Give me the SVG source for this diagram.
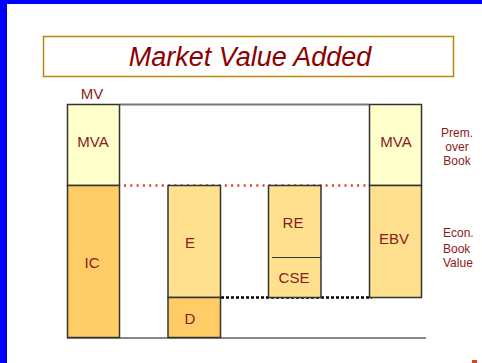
<svg xmlns="http://www.w3.org/2000/svg" width="482" height="363" viewBox="0 0 482 363">
<style>
.lbl{font-family:"Liberation Sans",Arial,sans-serif;fill:#8B1A1A;text-anchor:middle}
.big{font-size:15px}
.sm{font-size:12px}
.box{stroke:#333;stroke-width:1.5}
.light{fill:#FFFFCC}
.dark{fill:#FFCC66}
.hatch{fill:#FFE08F}
</style>
<rect x="0" y="0" width="482" height="363" fill="#fff"/>
<rect x="0" y="0" width="482" height="4" fill="#0000FF"/>
<rect x="0" y="0" width="7" height="363" fill="#0000FF"/>
<rect x="472" y="360" width="5" height="3" fill="#E8401A"/>
<g id="title">
<rect x="43.5" y="36.5" width="410" height="40" fill="#fff" stroke="#B8860B" stroke-width="1.5"/>
<text x="250" y="66" font-family="Liberation Sans,Arial,sans-serif" font-size="27" font-style="italic" fill="#8B0000" text-anchor="middle">Market Value Added</text>
</g>
<g id="connectors">
<line x1="120" y1="104.5" x2="369" y2="104.5" stroke="#777" stroke-width="2"/>
<line x1="67" y1="338" x2="426" y2="338" stroke="#888" stroke-width="2"/>
<line x1="124" y1="185.5" x2="369" y2="185.5" stroke="#E0401A" stroke-width="2.5" stroke-dasharray="2 4.3"/>
<line x1="221" y1="297.5" x2="372" y2="297.5" stroke="#000" stroke-width="2.5" stroke-dasharray="3 2"/>
</g>
<g id="mv-col">
<text class="lbl big" x="92" y="99">MV</text>
<rect class="light box" x="67.5" y="104.5" width="52" height="81"/>
<rect class="dark box" x="67.5" y="185.5" width="52" height="152"/>
<text class="lbl big" x="93" y="147">MVA</text>
<text class="lbl big" x="92" y="268">IC</text>
</g>
<g id="e-col">
<rect class="hatch box" x="168" y="185.5" width="52.5" height="112"/>
<rect class="dark box" x="168" y="297.5" width="52.5" height="40"/>
<text class="lbl big" x="190" y="248">E</text>
<text class="lbl big" x="190" y="324">D</text>
</g>
<g id="re-col">
<rect class="hatch box" x="268.5" y="185.5" width="52.5" height="112"/>
<line x1="272" y1="257.5" x2="321" y2="257.5" stroke="#333" stroke-width="1.2"/>
<text class="lbl big" x="293" y="228">RE</text>
<text class="lbl big" x="294" y="283">CSE</text>
</g>
<g id="right-col">
<rect class="light box" x="369.5" y="104.5" width="52" height="81"/>
<rect class="hatch box" x="369.5" y="185.5" width="52" height="112"/>
<text class="lbl big" x="396" y="147">MVA</text>
<text class="lbl big" x="394" y="244">EBV</text>
</g>
<g id="side-labels">
<text class="lbl sm" x="457" y="137">Prem.</text>
<text class="lbl sm" x="457" y="151">over</text>
<text class="lbl sm" x="457" y="165">Book</text>
<text class="lbl sm" x="443" y="237" text-anchor="start" style="text-anchor:start">Econ.</text>
<text class="lbl sm" x="443" y="253" style="text-anchor:start">Book</text>
<text class="lbl sm" x="443" y="267" style="text-anchor:start">Value</text>
</g>
</svg>
